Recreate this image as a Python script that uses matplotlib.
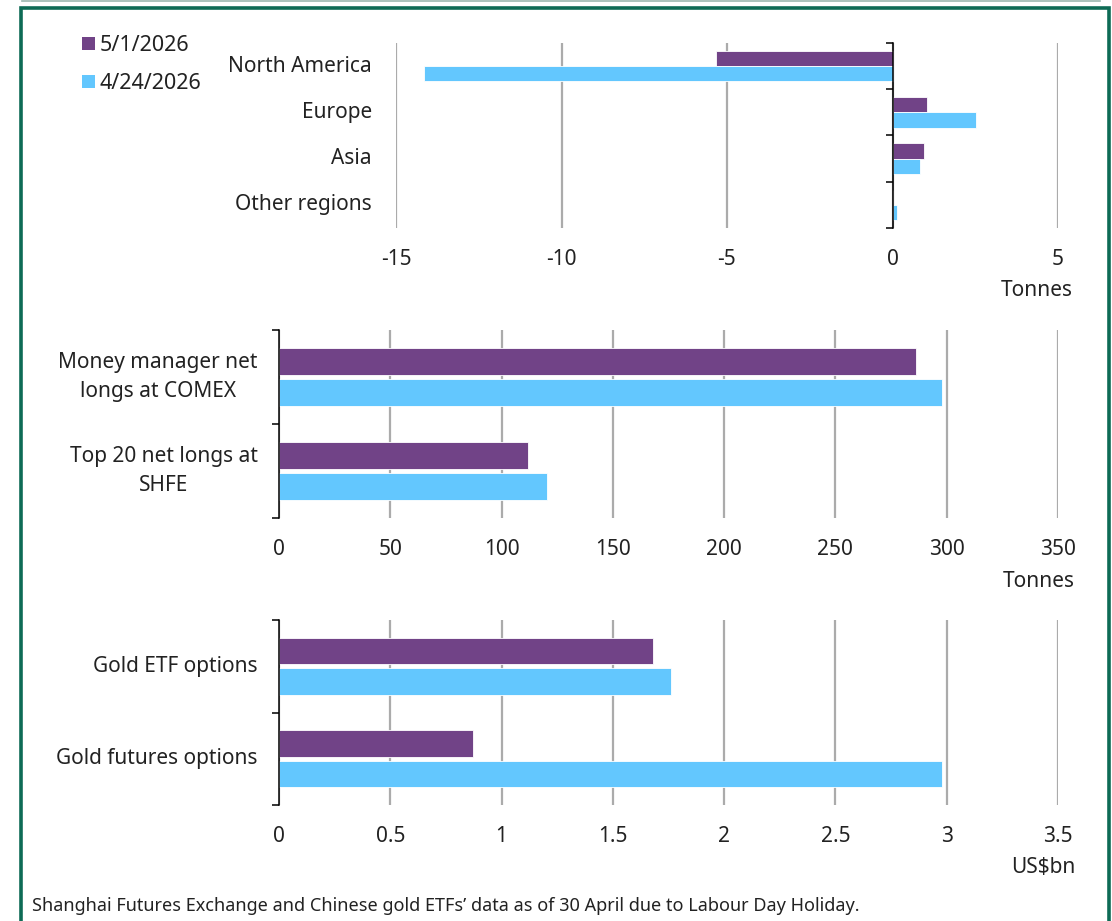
import matplotlib.pyplot as plt
import numpy as np
from matplotlib.patches import Patch, Rectangle

plt.rcParams['font.family'] = ['Noto Sans', 'DejaVu Sans']
plt.rcParams['text.color'] = '#222222'
plt.rcParams['xtick.color'] = '#222222'

purple = '#714387'
blue = '#63C7FE'
grid_c = '#ABABAB'
frame_c = '#0E6B55'

series = ['5/1/2026', '4/24/2026']

# regional flows, tonnes
regions = ['North America', 'Europe', 'Asia', 'Other regions']
regions_now = [-5.33, 1.05, 0.96, 0.0]
regions_prev = [-14.15, 2.53, 0.83, 0.14]

# futures positioning, tonnes
futures = ['Money manager net\nlongs at COMEX', 'Top 20 net longs at\nSHFE']
futures_now = [286, 112]
futures_prev = [298, 120.5]

# options, US$bn
options = ['Gold ETF options', 'Gold futures options']
options_now = [1.68, 0.87]
options_prev = [1.76, 2.98]

W, H = 1112, 921
FS = 15
fig = plt.figure(figsize=(W / 100, H / 100), dpi=100)


def px_axes(left, top, right, bottom):
    return fig.add_axes([left / W, 1 - bottom / H, (right - left) / W, (bottom - top) / H])


def hbars(ax, cats, now, prev, xmin, xmax, step, unit, height, label_gap, zero_spine=False):
    y = np.arange(len(cats))
    ax.barh(y - 0.165, now, height=height, color=purple, edgecolor='white', linewidth=0.6, zorder=3)
    ax.barh(y + 0.165, prev, height=height, color=blue, edgecolor='white', linewidth=0.6, zorder=3)
    ax.set_ylim(len(cats) - 0.5, -0.5)
    ax.set_xlim(xmin, xmax)
    ticks = np.arange(xmin, xmax + step / 2, step)
    ax.set_xticks(ticks)
    ax.set_xticklabels(['%g' % round(t, 2) for t in ticks])
    ax.tick_params(axis='x', length=0, pad=15, labelsize=FS)
    ax.grid(axis='x', color=grid_c, linewidth=1.6, zorder=0)
    for s in ['top', 'right', 'bottom']:
        ax.spines[s].set_visible(False)
    ax.spines['left'].set_linewidth(1.1)
    if zero_spine:
        ax.spines['left'].set_position(('data', 0))
    ax.spines['left'].set_zorder(4)
    # category boundaries as tick marks, names drawn beside the plot area
    ax.set_yticks(np.arange(len(cats) + 1) - 0.5)
    ax.set_yticklabels([])
    ax.tick_params(axis='y', length=5, width=1.1, direction='out')
    width_px = ax.get_position().width * W
    for i, c in enumerate(cats):
        ax.text(-label_gap / width_px, i, c, transform=ax.get_yaxis_transform(which='grid'),
                ha='right', va='center', multialignment='center', linespacing=1.45, fontsize=FS)
    ax.text(1.022, -0.34, unit, transform=ax.transAxes, ha='right', va='center', fontsize=FS)
    ax.set_facecolor('none')


ax1 = px_axes(396, 43, 1058, 228)
hbars(ax1, regions, regions_now, regions_prev, -15, 5, 5, 'Tonnes', 0.33, 24, zero_spine=True)

ax2 = px_axes(279, 330, 1058, 518)
hbars(ax2, futures, futures_now, futures_prev, 0, 350, 50, 'Tonnes', 0.29, 21)

ax3 = px_axes(279, 620, 1058, 805)
hbars(ax3, options, options_now, options_prev, 0, 3.5, 0.5, 'US$bn', 0.29, 21)

handles = [Patch(facecolor=purple), Patch(facecolor=blue)]
fig.legend(handles, series, loc='upper left', bbox_to_anchor=(82 / W, 1 - 35 / H),
           frameon=False, fontsize=15.5, handlelength=0.6, handleheight=0.6,
           handletextpad=0.2, labelspacing=0.8, borderpad=0, borderaxespad=0)

fig.text(32 / W, 1 - 906 / H,
         'Shanghai Futures Exchange and Chinese gold ETFs\u2019 data as of 30 April due to Labour Day Holiday.',
         ha='left', va='center', fontsize=13)

# surrounding frame
fig.add_artist(Rectangle((20.5 / W, -0.05), (1108.5 - 20.5) / W, 1.05 - 8 / H,
                         transform=fig.transFigure, fill=False, edgecolor=frame_c, linewidth=2.6))
fig.add_artist(plt.Line2D([22 / W, 1100 / W], [1 - 1 / H, 1 - 1 / H],
                          transform=fig.transFigure, color='#9DB7B0', linewidth=1.2))

fig.savefig('out.png', dpi=100)
